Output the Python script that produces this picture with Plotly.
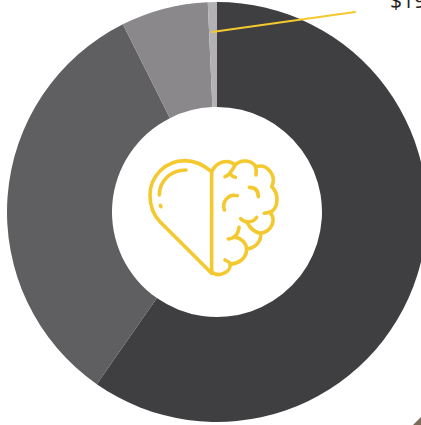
import re
import plotly.graph_objects as go

# Slice shares, clockwise from 12 o'clock
slice_names = ["A", "B", "C", "D"]
slice_values = [59.7, 32.9, 6.7, 0.7]
slice_colors = ["#3f3f41", "#5f5f61", "#8a888b", "#b3b1b4"]
callout_text = "$19"

FIG_W, FIG_H = 430, 425


def fx(x):
    return x / FIG_W


def fy(y):
    return 1 - y / FIG_H


def icon_path(d):
    """Convert a path written in icon space into paper coordinates."""
    toks = re.findall(r"[MCL]|-?[\d.]+", d)
    out, i = [], 0
    while i < len(toks):
        if toks[i] in "MCL":
            out.append(toks[i])
            i += 1
        else:
            x = 130 + float(toks[i]) / 3
            y = 130 + float(toks[i + 1]) / 3
            out.append(f"{fx(x):.5f},{fy(y):.5f}")
            i += 2
    return " ".join(out)


ICON = [
    "M245,125 L245,430",
    "M245,125 C215,100 190,92 165,92 C105,92 60,140 60,195 C60,230 72,257 90,275 L245,430",
    "M168,120 C120,120 88,155 88,195",
    "M91,226 L93,230",
    "M245,125 C260,95 295,85 315,105 C335,85 365,92 378,110 C410,100 442,135 425,170 "
    "C447,190 447,235 420,247 C440,270 425,305 392,310 C395,335 375,355 350,357 "
    "C350,385 325,402 300,402 C305,425 265,445 245,425",
    "M285,140 C300,135 307,120 315,105",
    "M300,130 C305,138 310,141 316,142",
    "M378,135 C380,125 378,115 376,108",
    "M358,172 C375,172 385,180 385,200",
    "M403,250 C410,248 415,247 425,245",
    "M332,266 C345,280 370,278 380,262",
    "M350,275 C360,295 375,308 392,310",
    "M295,327 C315,325 325,310 327,292",
    "M315,322 C335,325 350,340 350,358",
    "M285,390 C295,395 300,398 303,402",
    "M322,197 C295,190 275,215 283,240",
]

shapes = [
    dict(type="path", xref="paper", yref="paper", path=icon_path(d),
         line=dict(color="#f4c930", width=3.6), fillcolor="rgba(0,0,0,0)")
    for d in ICON
]
shapes.append(dict(type="line", xref="paper", yref="paper",
                   x0=fx(212), y0=fy(32), x1=fx(355), y1=fy(12),
                   line=dict(color="#f4c930", width=2)))
shapes.append(dict(type="path", xref="paper", yref="paper",
                   path=f"M{fx(413)},{fy(425)} L{fx(421)},{fy(417)} L{fx(421)},{fy(425)} Z",
                   line=dict(width=0), fillcolor="#7d6a58"))

fig = go.Figure(go.Pie(
    labels=slice_names, values=slice_values, sort=False, direction="clockwise",
    rotation=0, hole=0.5, textinfo="none", hoverinfo="skip",
    marker=dict(colors=slice_colors, line=dict(width=0)),
    domain=dict(x=[fx(7), fx(427)], y=[fy(422), fy(2)]),
))
fig.update_layout(
    width=FIG_W, height=FIG_H, margin=dict(l=0, r=0, t=0, b=0),
    paper_bgcolor="white", showlegend=False, shapes=shapes,
    annotations=[dict(text=callout_text, xref="paper", yref="paper",
                      x=fx(388), y=fy(16), xanchor="left", yanchor="bottom",
                      showarrow=False, font=dict(family="Open Sans", size=21, color="#222222"))],
)
fig.write_html("out.html", config=dict(displayModeBar=False), post_script="""
document.documentElement.style.overflow='hidden';
document.body.style.overflow='hidden';
document.body.style.margin='0';
document.querySelectorAll('.shapelayer path').forEach(p=>{p.style.strokeLinecap='round';p.style.strokeLinejoin='round';});
""")
